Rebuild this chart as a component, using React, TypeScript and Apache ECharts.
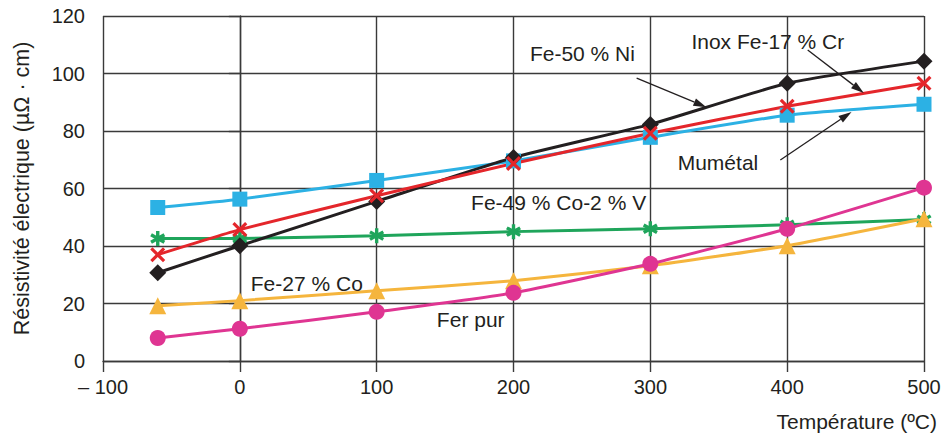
import React, { useEffect, useRef } from "react";
import * as echarts from "echarts";

const temps = [-60, 0, 100, 200, 300, 400, 500];
const feNi = [30.7, 40.1, 55.5, 70.8, 82.3, 96.6, 104.3];
const inox = [37.0, 45.7, 57.5, 68.7, 79.2, 88.6, 96.6];
const mumetal = [53.4, 56.3, 62.8, 69.6, 77.8, 85.5, 89.3];
const feCoV = [42.6, 42.6, 43.6, 45.0, 46.0, 47.4, 49.2];
const feCo27 = [19.2, 21.0, 24.4, 27.9, 33.1, 40.1, 49.5];
const ferPur = [8.0, 11.2, 17.1, 23.7, 33.8, 46.0, 60.3];

const labels = [
  { text: "Fe-50 % Ni", x: 212, y: 107.1 },
  { text: "Inox Fe-17 % Cr", x: 330, y: 111.3 },
  { text: "Mumétal", x: 320, y: 68.9 },
  { text: "Fe-49 % Co-2 % V", x: 169, y: 55 },
  { text: "Fe-27 % Co", x: 8, y: 27.1 },
  { text: "Fer pur", x: 144, y: 14.3 },
];
const arrows = [
  { from: [290, 98.4], to: [341, 88.3] },
  { from: [415, 108.2], to: [456, 93.2] },
  { from: [395, 69.9], to: [447, 86.6] },
];

const FONT = "'Liberation Sans', Arial, Helvetica, sans-serif";
const TXT = "#231f20";
const GRID = "#3a3a3a";

const crossPath =
  "path://M-10,-7 L-7,-10 L0,-3 L7,-10 L10,-7 L3,0 L10,7 L7,10 L0,3 L-7,10 L-10,7 L-3,0 Z";
const asteriskPath =
  "path://M-2.2,-10 L2.2,-10 L2.2,10 L-2.2,10 Z M9.76,3.1 L7.56,6.9 L-9.76,-3.1 L-7.56,-6.9 Z M7.56,-6.9 L9.76,-3.1 L-7.56,6.9 L-9.76,3.1 Z";

function mk(name: string, data: number[], color: string, symbol: string, size: number) {
  return {
    name,
    type: "line",
    data: temps.map((t, i) => [t, data[i]]),
    smooth: 0.15,
    symbol,
    symbolSize: size,
    showAllSymbol: true,
    lineStyle: { color, width: 3 },
    itemStyle: { color },
    z: 3,
  };
}

export default function App() {
  const ref = useRef<HTMLDivElement>(null);
  useEffect(() => {
    if (!ref.current) return;
    const chart = echarts.init(ref.current, undefined, { renderer: "svg" });
    const axisLine = { show: true, lineStyle: { color: GRID, width: 1.4 } };
    chart.setOption({
      animation: false,
      backgroundColor: "#ffffff",
      grid: { left: 103, right: 20, top: 16, bottom: 78, containLabel: false },
      xAxis: {
        type: "value",
        min: -100,
        max: 500,
        interval: 100,
        axisLine: { ...axisLine, onZero: false },
        axisTick: { show: true, length: 11, lineStyle: { color: GRID, width: 1.4 } },
        splitLine: { show: true, lineStyle: { color: GRID, width: 1.4 } },
        axisLabel: {
          color: TXT,
          fontSize: 20,
          fontFamily: FONT,
          margin: 16,
          formatter: (v: number) => (v < 0 ? "– " + Math.abs(v) : String(v)),
        },
        name: "Température (ºC)",
        nameLocation: "end",
        nameGap: 13,
        nameTextStyle: {
          color: TXT,
          fontSize: 21,
          fontFamily: FONT,
          align: "right",
          verticalAlign: "top",
          padding: [50, 0, 0, 0],
        },
      },
      yAxis: {
        type: "value",
        min: 0,
        max: 120,
        interval: 20,
        axisLine: axisLine,
        axisTick: { show: true, length: 11, lineStyle: { color: GRID, width: 1.4 } },
        splitLine: { show: true, lineStyle: { color: GRID, width: 1.4 } },
        axisLabel: { color: TXT, fontSize: 20, fontFamily: FONT, margin: 18 },
        name: "Résistivité électrique (µΩ · cm)",
        nameLocation: "middle",
        nameGap: 70,
        nameTextStyle: { color: TXT, fontSize: 21.5, fontFamily: FONT },
      },
      series: [
        mk("Mumétal", mumetal, "#2cb1e4", "rect", 15),
        mk("Fe-49 % Co-2 % V", feCoV, "#1fa55b", asteriskPath, 15),
        mk("Fe-50 % Ni", feNi, "#231f20", "diamond", 17),
        mk("Inox Fe-17 % Cr", inox, "#e4262b", crossPath, 15),
        mk("Fe-27 % Co", feCo27, "#f5b53d", "triangle", 17),
        mk("Fer pur", ferPur, "#df3592", "circle", 16),
      ],
    });

    const px = (p: number[]) => chart.convertToPixel({ gridIndex: 0 }, p) as number[];
    const graphic: any[] = [];
    labels.forEach((l) => {
      const [x, y] = px([l.x, l.y]);
      graphic.push({
        type: "text",
        x,
        y,
        z: 10,
        style: {
          text: l.text,
          fill: TXT,
          font: `21px ${FONT}`,
          textAlign: "left",
          textVerticalAlign: "middle",
        },
      });
    });
    arrows.forEach((a) => {
      const [x1, y1] = px(a.from);
      const [x2, y2] = px(a.to);
      const dx = x2 - x1;
      const dy = y2 - y1;
      const len = Math.sqrt(dx * dx + dy * dy);
      const ux = dx / len;
      const uy = dy / len;
      const hl = 13;
      const hw = 4;
      const bx = x2 - ux * hl;
      const by = y2 - uy * hl;
      graphic.push({
        type: "line",
        z: 10,
        shape: { x1, y1, x2: bx, y2: by },
        style: { stroke: TXT, lineWidth: 1.3 },
      });
      graphic.push({
        type: "polygon",
        z: 10,
        shape: {
          points: [
            [x2, y2],
            [bx - uy * hw, by + ux * hw],
            [bx + uy * hw, by - ux * hw],
          ],
        },
        style: { fill: TXT },
      });
    });
    chart.setOption({ graphic });
    return () => chart.dispose();
  }, []);
  return <div ref={ref} style={{ width: 944, height: 439, position: "absolute", left: 0, top: 0 }} />;
}
